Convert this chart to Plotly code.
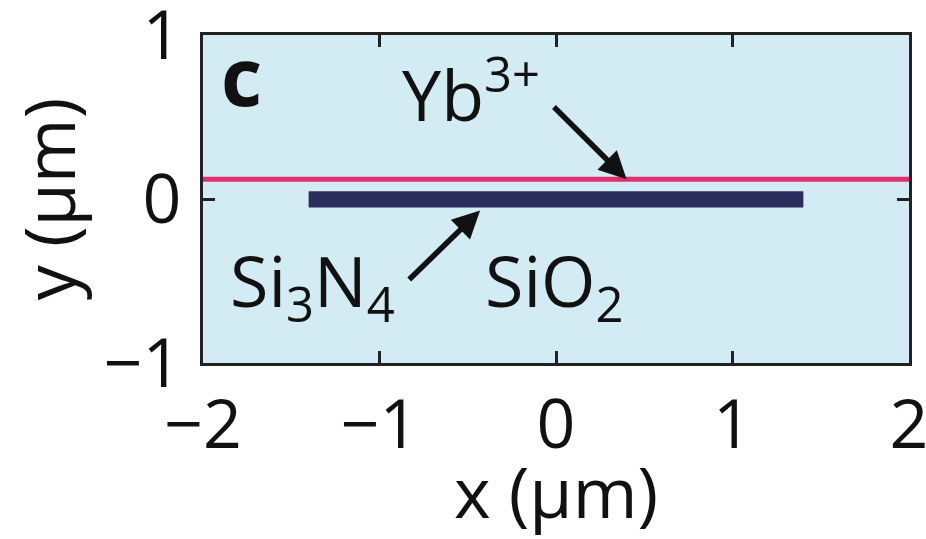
import plotly.graph_objects as go

# data
x_range = [-2, 2]
y_range = [-1, 1]
x_ticks = [-2, -1, 0, 1, 2]
x_ticklabels = ["\u22122", "\u22121", "0", "1", "2"]
y_ticks = [-1, 0, 1]
y_ticklabels = ["\u22121", "0", "1"]

yb_x = [-2, 2]          # Yb3+ layer extent
yb_y = [0.12, 0.12]     # Yb3+ layer height

wg_x = [-1.4, 1.4]      # Si3N4 waveguide extent
wg_y = [-0.05, 0.045]   # Si3N4 waveguide bottom/top

FONT = "Open Sans"
fs = 70
tick_fs = 68
INK = "#111111"

fig = go.Figure()

# waveguide rectangle
fig.add_trace(go.Scatter(
    x=[wg_x[0], wg_x[1], wg_x[1], wg_x[0], wg_x[0]],
    y=[wg_y[0], wg_y[0], wg_y[1], wg_y[1], wg_y[0]],
    mode="lines", fill="toself", fillcolor="#2b2d5f",
    line=dict(color="#2b2d5f", width=0.5), hoverinfo="skip", showlegend=False))

# Yb layer
fig.add_trace(go.Scatter(
    x=yb_x, y=yb_y, mode="lines",
    line=dict(color="#e0306f", width=5), hoverinfo="skip", showlegend=False))

ann_font = dict(family=FONT, size=fs, color=INK)

fig.add_annotation(x=-1.78, y=0.76, text="<b>c</b>", showarrow=False,
                   font=dict(family=FONT, size=80, color=INK))
fig.add_annotation(x=-0.48, y=0.66, text="Yb<sup>3+</sup>", showarrow=False, font=ann_font)
fig.add_annotation(x=-1.38, y=-0.52, text="Si<sub>3</sub>N<sub>4</sub>", showarrow=False, font=ann_font)
fig.add_annotation(x=-0.01, y=-0.52, text="SiO<sub>2</sub>", showarrow=False, font=ann_font)

# arrows
fig.add_annotation(x=0.40, y=yb_y[0], ax=-0.02, ay=0.57, axref="x", ayref="y",
                   xref="x", yref="y", text="", showarrow=True,
                   arrowhead=2, arrowsize=1.0, arrowwidth=5.5, arrowcolor=INK)
fig.add_annotation(x=-0.43, y=wg_y[0] - 0.02, ax=-0.84, ay=-0.5, axref="x", ayref="y",
                   xref="x", yref="y", text="", showarrow=True,
                   arrowhead=2, arrowsize=1.0, arrowwidth=5.5, arrowcolor=INK)

axis_common = dict(
    showgrid=False, zeroline=False, showline=True, linecolor="#222222", linewidth=3,
    mirror="ticks", ticks="inside", ticklen=12, tickwidth=3, tickcolor="#222222",
    tickfont=dict(family=FONT, size=tick_fs, color=INK), automargin=False,
    ticklabeloverflow="allow",
)

fig.update_xaxes(range=x_range, tickvals=x_ticks, ticktext=x_ticklabels,
                 title=dict(text="x (\u00b5m)", font=dict(family=FONT, size=fs, color=INK), standoff=5),
                 **axis_common)
fig.update_yaxes(range=y_range, tickvals=y_ticks, ticktext=y_ticklabels,
                 ticklabelstandoff=5,
                 title=dict(text="y (\u00b5m)", font=dict(family=FONT, size=fs, color=INK), standoff=20),
                 **axis_common)

fig.update_layout(
    width=926, height=539,
    margin=dict(l=203, r=17, t=35, b=176),
    plot_bgcolor="#d3ebf3", paper_bgcolor="white",
    font=dict(family=FONT),
)

fig.write_html("out.html")
